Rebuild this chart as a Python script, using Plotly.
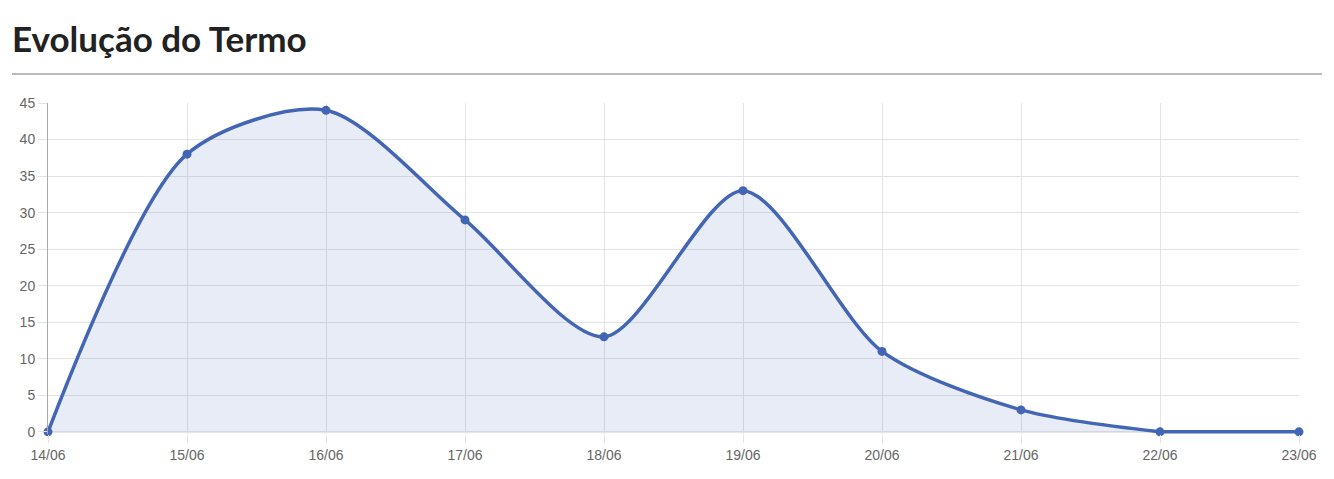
import plotly.graph_objects as go

dates = ["14/06", "15/06", "16/06", "17/06", "18/06", "19/06", "20/06", "21/06", "22/06", "23/06"]
values = [0, 38, 44, 29, 13, 33, 11, 3, 0, 0]
y_ticks = [0, 5, 10, 15, 20, 25, 30, 35, 40, 45]

# page body has an 8px margin, so the figure is 16px smaller than the window
W, H = 1318, 463
L, R, T, B = 40, 27, 95, 37
color = "#4266b4"
fill = "rgba(66,102,180,0.12)"

# the trailing flat run is drawn straight (monotone-style, no overshoot)
cut = len(values) - 1
while cut > 0 and values[cut - 1] == values[-1]:
    cut -= 1

fig = go.Figure()
fig.add_trace(go.Scatter(
    x=dates[:cut + 1], y=values[:cut + 1], mode="lines",
    line=dict(color=color, width=3.5, shape="spline", smoothing=0.8),
    fill="tozeroy", fillcolor=fill, hoverinfo="skip",
))
fig.add_trace(go.Scatter(
    x=dates[cut:], y=values[cut:], mode="lines",
    line=dict(color=color, width=3.5),
    hoverinfo="skip",
))
fig.add_trace(go.Scatter(
    x=dates, y=values, mode="markers",
    marker=dict(color=color, size=9),
    cliponaxis=False, hoverinfo="x+y",
))

grid = "#e3e3e3"
fig.update_layout(
    width=W, height=H,
    margin=dict(l=L, r=R, t=T, b=B, autoexpand=False),
    paper_bgcolor="white", plot_bgcolor="white",
    showlegend=False,
    font=dict(family="Liberation Sans, Arial, sans-serif", size=14, color="#666"),
    title=dict(text="<b>Evolução do Termo</b>", xref="container", yref="container",
               x=4 / W, xanchor="left", y=1 - 32 / H, yanchor="middle",
               font=dict(family="Lato", size=35, color="#222")),
    xaxis=dict(type="category", range=[0, len(dates) - 1], showgrid=True, gridcolor=grid,
               gridwidth=1, ticks="outside", ticklen=8, tickcolor=grid,
               showline=False, zeroline=False, automargin=False,
               tickfont=dict(size=14, color="#666")),
    yaxis=dict(range=[-0.3, 45], tickvals=y_ticks, showgrid=True, gridcolor=grid,
               ticks="outside", ticklen=9, tickcolor=grid, showline=True,
               linecolor="#aaa", linewidth=1, zeroline=False, automargin=False,
               tickfont=dict(size=14, color="#666")),
    shapes=[
        dict(type="line", xref="paper", yref="paper",
             x0=(4 - L) / (W - L - R), x1=(1314 - L) / (W - L - R),
             y0=(H - B - 66) / (H - T - B), y1=(H - B - 66) / (H - T - B),
             line=dict(color="#777", width=1)),
        dict(type="line", xref="paper", yref="y", x0=0, x1=1, y0=0, y1=0,
             line=dict(color="#aaa", width=1), layer="below"),
    ],
)

fig.write_html("out.html")
